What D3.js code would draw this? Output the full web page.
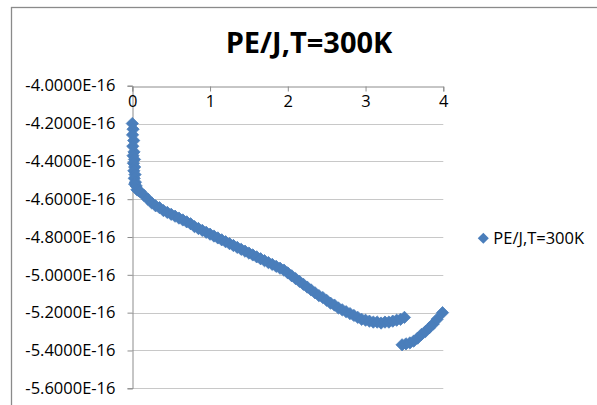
<!DOCTYPE html>
<html>
<head>
<meta charset="utf-8">
<script src="https://cdn.jsdelivr.net/npm/d3@7"></script>
<style>
  html, body { margin: 0; padding: 0; background: #ffffff; }
  svg { display: block; }
  text { font-family: "Open Sans", "Noto Sans", sans-serif; fill: #000; }
</style>
</head>
<body>
<svg id="chart" width="597" height="405"></svg>
<script>
// Potential energy (J) versus time, T = 300 K — values in units of 1e-16 J
const seriesName = "PE/J,T=300K";
const xValues = [
  0.000, 0.010, 0.003, 0.018, 0.006, 0.022, 0.010, 0.028, 0.015, 0.030,
  0.020, 0.035, 0.025, 0.040, 0.030, 0.050, 0.060, 0.080, 0.100, 0.150,
  0.20, 0.25, 0.30, 0.35, 0.40, 0.45, 0.50, 0.55, 0.60, 0.65,
  0.70, 0.75, 0.80, 0.85, 0.90, 0.95, 1.00, 1.05, 1.10, 1.15,
  1.20, 1.25, 1.30, 1.35, 1.40, 1.45, 1.50, 1.55, 1.60, 1.65,
  1.70, 1.75, 1.80, 1.85, 1.90, 1.95, 2.00, 2.05, 2.10, 2.15,
  2.20, 2.25, 2.30, 2.35, 2.40, 2.45, 2.50, 2.55, 2.60, 2.65,
  2.70, 2.75, 2.80, 2.85, 2.90, 2.95, 3.00, 3.05, 3.10, 3.15,
  3.20, 3.25, 3.30, 3.35, 3.40, 3.45, 3.50,
  3.47, 3.52, 3.57, 3.62, 3.67, 3.72, 3.77, 3.82, 3.87, 3.92, 3.99
];
const peValues = [
  -4.200, -4.230, -4.260, -4.290, -4.320, -4.350, -4.370, -4.390, -4.410, -4.430,
  -4.450, -4.470, -4.490, -4.510, -4.520, -4.530, -4.550, -4.555, -4.560, -4.580,
  -4.600, -4.620, -4.635, -4.645, -4.660, -4.670, -4.680, -4.690, -4.700, -4.710,
  -4.720, -4.730, -4.745, -4.755, -4.765, -4.775, -4.785, -4.795, -4.805, -4.815,
  -4.825, -4.835, -4.845, -4.855, -4.865, -4.875, -4.885, -4.895, -4.905, -4.915,
  -4.925, -4.935, -4.945, -4.955, -4.965, -4.975, -4.990, -5.005, -5.020, -5.035,
  -5.050, -5.065, -5.080, -5.095, -5.110, -5.120, -5.135, -5.150, -5.160, -5.175,
  -5.185, -5.195, -5.205, -5.215, -5.225, -5.235, -5.240, -5.245, -5.250, -5.250,
  -5.255, -5.250, -5.250, -5.245, -5.240, -5.235, -5.225,
  -5.370, -5.365, -5.360, -5.350, -5.335, -5.315, -5.300, -5.280, -5.260, -5.235, -5.200
];
const xTicks = [0, 1, 2, 3, 4];
const yTicks = [-4.0, -4.2, -4.4, -4.6, -4.8, -5.0, -5.2, -5.4, -5.6];

const points = xValues.map((x, i) => ({ x: x, y: peValues[i] * 1e-16 }));

const svg = d3.select("#chart");
const markerColor = "#4A7EBB";
const gridColor = "#C8C8C8";
const axisColor = "#8C8C8C";
const labelSize = 16.5;

// chart area frame (runs past the right and bottom edges)
svg.append("rect")
  .attr("x", 11.5).attr("y", 7.5)
  .attr("width", 700).attr("height", 500)
  .attr("fill", "#fff")
  .attr("stroke", "#8A8A8A").attr("stroke-width", 1.3);

const x = d3.scaleLinear().domain([0, 4]).range([132.3, 443.3]);
const y = d3.scaleLinear().domain([-5.6e-16, -4.0e-16]).range([388.3, 85.7]);

// horizontal gridlines
svg.append("g")
  .selectAll("line")
  .data(yTicks.slice(1))
  .join("line")
  .attr("x1", x(0)).attr("x2", x(4))
  .attr("y1", d => Math.round(y(d * 1e-16)) + 0.5)
  .attr("y2", d => Math.round(y(d * 1e-16)) + 0.5)
  .attr("stroke", gridColor).attr("stroke-width", 1);

// vertical (value) axis with exponent labels
const yAxis = d3.axisLeft(y)
  .tickValues(yTicks.map(v => v * 1e-16))
  .tickSize(5)
  .tickPadding(12)
  .tickFormat(d => (d / 1e-16).toFixed(4) + "E-16");
const gy = svg.append("g")
  .attr("transform", `translate(${Math.round(x(0)) + 0.5},0)`)
  .call(yAxis);
gy.select(".domain").attr("stroke", axisColor);
gy.selectAll(".tick line").attr("stroke", axisColor);
gy.selectAll(".tick text")
  .attr("font-family", "Open Sans")
  .attr("font-size", labelSize)
  .attr("fill", "#000");

// horizontal axis sits at the top of the plot
const xAxis = d3.axisBottom(x)
  .tickValues(xTicks)
  .tickSize(5)
  .tickPadding(4)
  .tickFormat(d3.format("d"));
const gx = svg.append("g")
  .attr("transform", `translate(0,${Math.round(y(-4.0e-16)) + 0.5})`)
  .call(xAxis);
gx.select(".domain").attr("stroke", axisColor);
gx.selectAll(".tick line").attr("stroke", axisColor);
gx.selectAll(".tick text")
  .attr("font-family", "Open Sans")
  .attr("font-size", labelSize)
  .attr("fill", "#000");

// diamond markers
const diamond = d3.symbol().type(d3.symbolDiamond2).size(96);
svg.append("g")
  .selectAll("path")
  .data(points)
  .join("path")
  .attr("d", diamond)
  .attr("transform", d => `translate(${x(d.x)},${y(d.y)})`)
  .attr("fill", markerColor)
  .attr("stroke", markerColor)
  .attr("stroke-width", 0.8);

// title
svg.append("text")
  .attr("x", 309).attr("y", 53.3)
  .attr("text-anchor", "middle")
  .attr("font-size", 29)
  .attr("font-weight", "bold")
  .text(seriesName);

// legend
const legend = svg.append("g").attr("transform", "translate(483.3,238.3)");
legend.append("path")
  .attr("d", d3.symbol().type(d3.symbolDiamond2).size(78))
  .attr("fill", markerColor);
legend.append("text")
  .attr("x", 10).attr("y", 5.5)
  .attr("font-size", labelSize)
  .text(seriesName);
</script>
</body>
</html>
